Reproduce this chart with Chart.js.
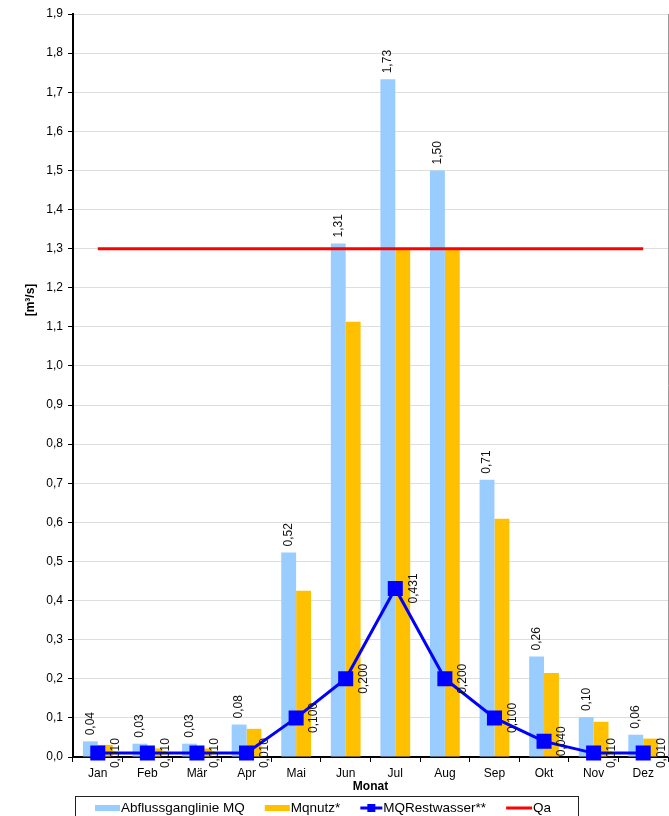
<!DOCTYPE html>
<html>
<head>
<meta charset="utf-8">
<script src="https://cdn.jsdelivr.net/npm/chart.js@4.4.0/dist/chart.umd.min.js"></script>
<style>
  html, body { margin: 0; padding: 0; background: #fff; }
  #wrap { width: 669px; height: 816px; position: relative; }
</style>
</head>
<body>
<div id="wrap"><canvas id="chart"></canvas></div>
<script>
// --- data ---
const months = ['Jan', 'Feb', 'Mär', 'Apr', 'Mai', 'Jun', 'Jul', 'Aug', 'Sep', 'Okt', 'Nov', 'Dez'];
const mqAbfluss = [0.040, 0.034, 0.034, 0.083, 0.523, 1.313, 1.733, 1.500, 0.709, 0.257, 0.102, 0.057];
const mqNutz = [0.031, 0.022, 0.022, 0.072, 0.425, 1.113, 1.300, 1.300, 0.609, 0.215, 0.090, 0.047];
const mqRest = [0.010, 0.010, 0.010, 0.010, 0.100, 0.200, 0.431, 0.200, 0.100, 0.040, 0.010, 0.010];
const qa = [1.3, 1.3, 1.3, 1.3, 1.3, 1.3, 1.3, 1.3, 1.3, 1.3, 1.3, 1.3];
const seriesNames = ['Abflussganglinie MQ', 'Mqnutz*', 'MQRestwasser**', 'Qa'];

const FONT = '"Liberation Sans", Arial, sans-serif';
const BLUE_BAR = '#99CCFF';
const ORANGE_BAR = '#FFC000';
const LINE_BLUE = '#0000FF';
const LINE_RED = '#FF0000';

const fmt = (v, d) => v.toFixed(d).replace('.', ',');

// rotated value labels (bars: above, line: right of point), y title, legend
const valueLabels = {
  id: 'valueLabels',
  beforeDatasetsDraw(chart) {
    const { ctx, chartArea } = chart;
    ctx.save();
    ctx.strokeStyle = '#999';
    ctx.lineWidth = 1;
    ctx.beginPath();
    ctx.moveTo(chartArea.right + 0.5, chartArea.top);
    ctx.lineTo(chartArea.right + 0.5, chartArea.bottom);
    ctx.stroke();
    ctx.restore();
  },
  afterDatasetsDraw(chart) {
    const ctx = chart.ctx;
    ctx.save();
    ctx.font = '12px ' + FONT;
    ctx.fillStyle = '#111';
    ctx.textBaseline = 'middle';
    chart.getDatasetMeta(0).data.forEach((bar, i) => {
      ctx.save();
      ctx.translate(bar.x, bar.y - 6);
      ctx.rotate(-Math.PI / 2);
      ctx.textAlign = 'left';
      ctx.fillText(fmt(mqAbfluss[i], 2), 0, 0);
      ctx.restore();
    });
    chart.getDatasetMeta(2).data.forEach((pt, i) => {
      ctx.save();
      ctx.translate(pt.x + 18, pt.y);
      ctx.rotate(-Math.PI / 2);
      ctx.textAlign = 'center';
      ctx.fillText(fmt(mqRest[i], 3), 0, 0);
      ctx.restore();
    });
    ctx.restore();
  },
  afterDraw(chart) {
    const ctx = chart.ctx;
    ctx.save();
    // y-axis title
    ctx.font = 'bold 12px ' + FONT;
    ctx.fillStyle = '#000';
    ctx.translate(31, 300);
    ctx.rotate(-Math.PI / 2);
    ctx.textAlign = 'center';
    ctx.textBaseline = 'middle';
    ctx.fillText('[m³/s]', 0, 0);
    ctx.restore();

    // legend box
    ctx.save();
    ctx.strokeStyle = '#222';
    ctx.lineWidth = 1;
    ctx.strokeRect(75.5, 796.5, 503, 30);
    ctx.font = '13.5px ' + FONT;
    ctx.textBaseline = 'middle';
    ctx.textAlign = 'left';
    const y = 808;
    let x = 95;
    // bars
    [[BLUE_BAR, seriesNames[0]], [ORANGE_BAR, seriesNames[1]]].forEach(([c, t]) => {
      ctx.fillStyle = c;
      ctx.fillRect(x, y - 3, 25, 6);
      ctx.fillStyle = '#000';
      ctx.fillText(t, x + 26, y);
      x += 26 + ctx.measureText(t).width + 20;
    });
    // line with square marker
    ctx.strokeStyle = LINE_BLUE;
    ctx.lineWidth = 3;
    ctx.beginPath(); ctx.moveTo(x, y); ctx.lineTo(x + 22, y); ctx.stroke();
    ctx.fillStyle = LINE_BLUE;
    ctx.fillRect(x + 7, y - 4, 8, 8);
    ctx.fillStyle = '#000';
    ctx.fillText(seriesNames[2], x + 23, y);
    x += 23 + ctx.measureText(seriesNames[2]).width + 20;
    // red line
    ctx.strokeStyle = LINE_RED;
    ctx.beginPath(); ctx.moveTo(x, y); ctx.lineTo(x + 26, y); ctx.stroke();
    ctx.fillText(seriesNames[3], x + 27, y);
    ctx.restore();
  }
};

new Chart(document.getElementById('chart'), {
  data: {
    labels: months,
    datasets: [
      { type: 'bar', label: seriesNames[0], data: mqAbfluss, backgroundColor: BLUE_BAR, order: 2,
        categoryPercentage: 0.6, barPercentage: 1.0 },
      { type: 'bar', label: seriesNames[1], data: mqNutz, backgroundColor: ORANGE_BAR, order: 3,
        categoryPercentage: 0.6, barPercentage: 1.0 },
      { type: 'line', label: seriesNames[2], data: mqRest, borderColor: LINE_BLUE, backgroundColor: LINE_BLUE,
        borderWidth: 3, pointStyle: 'rect', pointRadius: 8.5, order: 0, tension: 0, clip: false },
      { type: 'line', label: seriesNames[3], data: qa, borderColor: LINE_RED, borderWidth: 3,
        pointRadius: 0, order: 1 }
    ]
  },
  options: {
    responsive: true,
    maintainAspectRatio: false,
    animation: false,
    layout: { autoPadding: false, padding: { left: 20, right: 1, top: 14, bottom: 22 } },
    plugins: { legend: { display: false }, tooltip: { enabled: false } },
    scales: {
      x: {
        grid: { display: true, drawOnChartArea: false, offset: true, tickLength: 5, tickColor: '#000', tickWidth: 1 },
        border: { color: '#000', width: 2 },
        ticks: { color: '#000', font: { family: FONT, size: 12 }, padding: 4, maxRotation: 0 },
        title: { display: true, text: 'Monat', color: '#000', font: { family: FONT, size: 12, weight: 'bold' }, padding: 0 },
        afterFit(scale) { scale.height = 37; scale.paddingLeft = 0; scale.paddingRight = 0; }
      },
      y: {
        min: 0, max: 1.9,
        ticks: { stepSize: 0.1, color: '#000', font: { family: FONT, size: 12 }, padding: 5,
          callback: v => fmt(v, 1) },
        grid: { color: '#dedede', lineWidth: 1, tickLength: 5, tickColor: '#000' },
        border: { color: '#000', width: 2 },
        afterFit(scale) { scale.width = 53; scale.paddingTop = 0; scale.paddingBottom = 0; }
      }
    }
  },
  plugins: [valueLabels]
});
</script>
</body>
</html>
